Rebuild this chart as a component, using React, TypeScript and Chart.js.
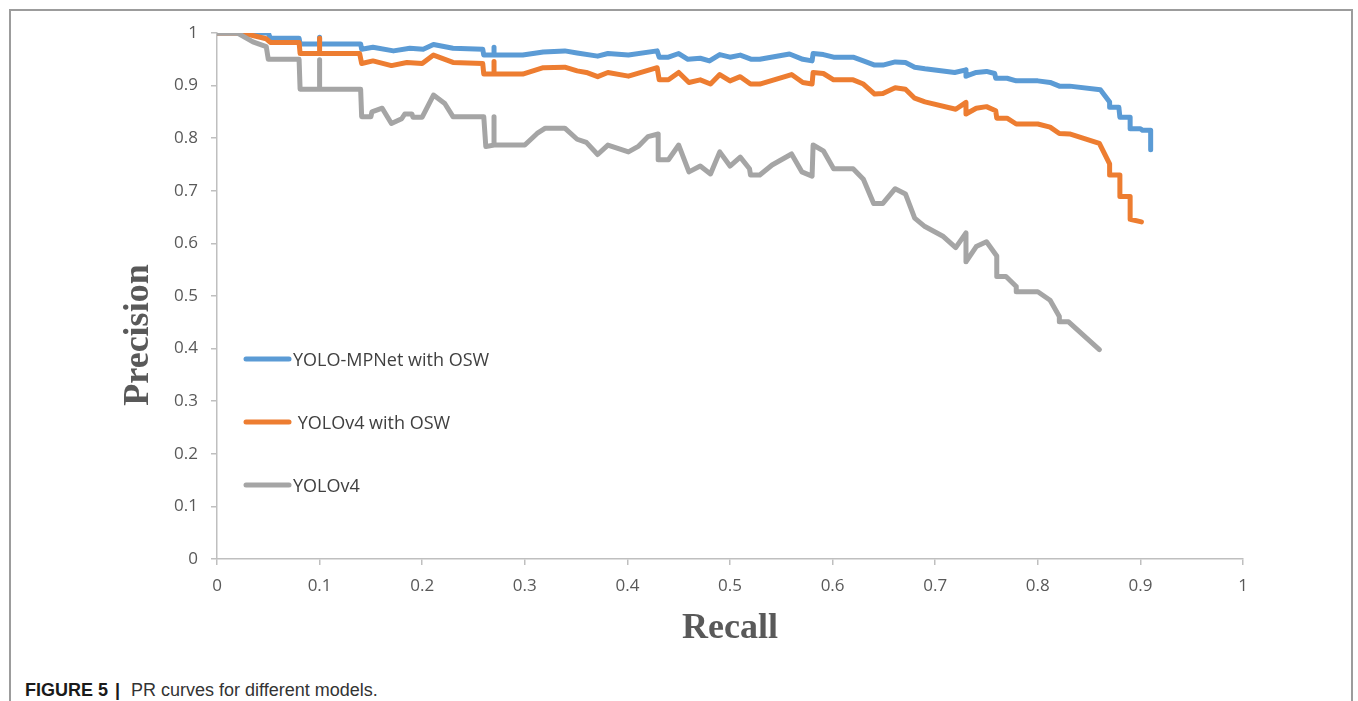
import React, { useEffect, useRef } from "react";
import { Chart, registerables } from "chart.js";

Chart.register(...registerables);

const SERIES_LABELS = ["YOLO-MPNet with OSW", " YOLOv4 with OSW", "YOLOv4"];
const SERIES_COLORS = ["#5b9bd5", "#ed7d31", "#a5a5a5"];

const X_TICKS = [0, 0.1, 0.2, 0.3, 0.4, 0.5, 0.6, 0.7, 0.8, 0.9, 1];
const X_TICK_LABELS = ["0", "0.1", "0.2", "0.3", "0.4", "0.5", "0.6", "0.7", "0.8", "0.9", "1"];
const Y_TICKS = [0, 0.1, 0.2, 0.3, 0.4, 0.5, 0.6, 0.7, 0.8, 0.9, 1];
const Y_TICK_LABELS = ["0", "0.1", "0.2", "0.3", "0.4", "0.5", "0.6", "0.7", "0.8", "0.9", "1"];

const X_TITLE = "Recall";
const Y_TITLE = "Precision";
const CAPTION_BOLD = "FIGURE 5";
const CAPTION_BAR = "|";
const CAPTION_TEXT = "PR curves for different models.";

// YOLO-MPNet with OSW
const MPNET_RECALL = [
  0, 0.05, 0.052, 0.08, 0.081, 0.1, 0.1, 0.1, 0.14, 0.141, 0.152, 0.172, 0.188, 0.201, 0.211, 0.23, 0.259, 0.26,
  0.27, 0.27, 0.27, 0.298, 0.318, 0.339, 0.351, 0.371, 0.381, 0.401, 0.429, 0.431, 0.44, 0.45, 0.459, 0.471, 0.48,
  0.49, 0.5, 0.51, 0.521, 0.529, 0.558, 0.571, 0.58, 0.581, 0.591, 0.601, 0.62, 0.63, 0.641, 0.649, 0.661, 0.671,
  0.68, 0.69, 0.719, 0.73, 0.73, 0.74, 0.75, 0.758, 0.759, 0.77, 0.779, 0.8, 0.812, 0.821, 0.831, 0.861, 0.87,
  0.87, 0.879, 0.88, 0.89, 0.89, 0.9, 0.902, 0.91, 0.91,
];
const MPNET_PRECISION = [
  1, 1, 0.99, 0.99, 0.979, 0.979, 0.992, 0.979, 0.979, 0.969, 0.973, 0.966, 0.971, 0.969, 0.978, 0.971, 0.969, 0.958,
  0.958, 0.973, 0.958, 0.958, 0.964, 0.966, 0.962, 0.956, 0.961, 0.958, 0.966, 0.954, 0.954, 0.961, 0.95, 0.952, 0.947,
  0.959, 0.954, 0.958, 0.95, 0.95, 0.96, 0.95, 0.947, 0.961, 0.959, 0.954, 0.954, 0.947, 0.939, 0.939, 0.945, 0.944,
  0.935, 0.932, 0.925, 0.93, 0.918, 0.925, 0.927, 0.923, 0.914, 0.914, 0.909, 0.909, 0.906, 0.899, 0.899, 0.892, 0.869,
  0.859, 0.859, 0.84, 0.84, 0.818, 0.818, 0.815, 0.815, 0.778,
];

// YOLOv4 with OSW
const V4OSW_RECALL = [
  0, 0.025, 0.048, 0.052, 0.08, 0.081, 0.1, 0.1, 0.1, 0.139, 0.141, 0.152, 0.17, 0.185, 0.2, 0.211, 0.23, 0.259, 0.26,
  0.27, 0.27, 0.27, 0.298, 0.318, 0.339, 0.351, 0.36, 0.371, 0.381, 0.401, 0.429, 0.431, 0.44, 0.45, 0.46, 0.471,
  0.481, 0.49, 0.5, 0.51, 0.52, 0.529, 0.56, 0.571, 0.58, 0.581, 0.591, 0.601, 0.62, 0.63, 0.641, 0.649, 0.661, 0.671,
  0.68, 0.69, 0.72, 0.73, 0.73, 0.74, 0.75, 0.759, 0.76, 0.77, 0.779, 0.8, 0.812, 0.821, 0.831, 0.86, 0.87, 0.87,
  0.88, 0.88, 0.89, 0.89, 0.901,
];
const V4OSW_PRECISION = [
  1, 1, 0.989, 0.982, 0.982, 0.961, 0.961, 0.99, 0.961, 0.961, 0.942, 0.947, 0.938, 0.944, 0.942, 0.958, 0.944, 0.942,
  0.922, 0.922, 0.946, 0.922, 0.922, 0.934, 0.935, 0.928, 0.925, 0.917, 0.925, 0.918, 0.934, 0.911, 0.911, 0.925, 0.906,
  0.911, 0.903, 0.921, 0.909, 0.917, 0.903, 0.903, 0.921, 0.906, 0.903, 0.925, 0.923, 0.911, 0.911, 0.903, 0.884, 0.885,
  0.896, 0.893, 0.876, 0.869, 0.855, 0.868, 0.846, 0.857, 0.86, 0.852, 0.838, 0.838, 0.827, 0.827, 0.821, 0.809, 0.808,
  0.79, 0.751, 0.73, 0.73, 0.689, 0.689, 0.646, 0.641,
];

// YOLOv4
const V4_RECALL = [
  0, 0.02, 0.035, 0.048, 0.05, 0.08, 0.081, 0.1, 0.1, 0.1, 0.14, 0.141, 0.15, 0.151, 0.161, 0.17, 0.18, 0.183, 0.19,
  0.191, 0.2, 0.211, 0.222, 0.23, 0.26, 0.262, 0.27, 0.27, 0.27, 0.3, 0.312, 0.32, 0.339, 0.351, 0.36, 0.371, 0.381,
  0.401, 0.411, 0.42, 0.43, 0.43, 0.44, 0.45, 0.46, 0.471, 0.481, 0.49, 0.5, 0.51, 0.519, 0.52, 0.529, 0.541, 0.56,
  0.57, 0.58, 0.581, 0.591, 0.601, 0.62, 0.63, 0.64, 0.649, 0.661, 0.671, 0.68, 0.69, 0.708, 0.72, 0.73, 0.73, 0.74,
  0.75, 0.76, 0.76, 0.769, 0.779, 0.779, 0.8, 0.812, 0.821, 0.821, 0.83, 0.86,
];
const V4_PRECISION = [
  1, 1, 0.983, 0.974, 0.95, 0.95, 0.893, 0.893, 0.949, 0.893, 0.893, 0.841, 0.841, 0.85, 0.857, 0.828, 0.837, 0.846,
  0.846, 0.84, 0.84, 0.882, 0.866, 0.841, 0.841, 0.784, 0.787, 0.841, 0.787, 0.787, 0.809, 0.819, 0.819, 0.798, 0.792,
  0.769, 0.787, 0.774, 0.785, 0.803, 0.808, 0.759, 0.759, 0.787, 0.736, 0.747, 0.732, 0.774, 0.747, 0.764, 0.742, 0.73,
  0.73, 0.749, 0.77, 0.736, 0.728, 0.787, 0.776, 0.742, 0.742, 0.722, 0.676, 0.676, 0.704, 0.694, 0.648, 0.632, 0.613,
  0.592, 0.62, 0.565, 0.594, 0.603, 0.576, 0.537, 0.537, 0.518, 0.508, 0.508, 0.492, 0.461, 0.451, 0.451, 0.398,
];

const SERIES_RECALL = [MPNET_RECALL, V4OSW_RECALL, V4_RECALL];
const SERIES_PRECISION = [MPNET_PRECISION, V4OSW_PRECISION, V4_PRECISION];

const CANVAS_W = 1358;
const CANVAS_H = 660;
const PLOT_LEFT = 217;
const PLOT_RIGHT = 1243;
const PLOT_TOP = 33;
const PLOT_BOTTOM = 559;

const AXIS_COLOR = "#bfbfbf";
const LABEL_COLOR = "#595959";

const overlayPlugin = {
  id: "overlay",
  afterDatasetsDraw(chart: any) {
    const ctx = chart.ctx as CanvasRenderingContext2D;
    ctx.save();
    // legend inside plot
    const rows = [359, 422, 485];
    ctx.font = "18px 'Open Sans'";
    ctx.textAlign = "left";
    ctx.textBaseline = "alphabetic";
    SERIES_LABELS.forEach((label, i) => {
      ctx.strokeStyle = SERIES_COLORS[i];
      ctx.lineWidth = 5;
      ctx.lineCap = "round";
      ctx.beginPath();
      ctx.moveTo(246, rows[i]);
      ctx.lineTo(289, rows[i]);
      ctx.stroke();
      ctx.fillStyle = "#404040";
      ctx.fillText(label, 293, rows[i] + 6.5);
    });
    // axis titles
    ctx.fillStyle = LABEL_COLOR;
    ctx.font = "bold 36px 'Liberation Serif'";
    ctx.textAlign = "center";
    ctx.textBaseline = "alphabetic";
    ctx.fillText(X_TITLE, (PLOT_LEFT + PLOT_RIGHT) / 2, 638);
    ctx.translate(148, 335);
    ctx.rotate(-Math.PI / 2);
    ctx.fillText(Y_TITLE, 0, 0);
    ctx.restore();
  },
};

export default function App() {
  const ref = useRef<HTMLCanvasElement | null>(null);

  useEffect(() => {
    if (!ref.current) return;
    const order = [2, 1, 0];
    const datasets = SERIES_LABELS.map((label, i) => ({
      label,
      data: SERIES_RECALL[i].map((r, j) => ({ x: r, y: SERIES_PRECISION[i][j] })),
      borderColor: SERIES_COLORS[i],
      backgroundColor: SERIES_COLORS[i],
      borderWidth: 5,
      borderCapStyle: "round" as const,
      borderJoinStyle: "round" as const,
      showLine: true,
      pointRadius: 0,
      tension: 0,
      order: order[i],
    }));
    const chart = new Chart(ref.current, {
      type: "scatter",
      data: { datasets },
      options: {
        animation: false,
        responsive: false,
        devicePixelRatio: 1,
        layout: {
          padding: { left: 0, right: CANVAS_W - PLOT_RIGHT, top: PLOT_TOP, bottom: 0 },
        },
        plugins: {
          legend: { display: false },
          tooltip: { enabled: false },
        },
        scales: {
          x: {
            type: "linear",
            min: 0,
            max: 1,
            afterBuildTicks: (scale: any) => {
              scale.ticks = X_TICKS.map((v) => ({ value: v }));
            },
            afterFit: (scale: any) => {
              scale.height = CANVAS_H - PLOT_BOTTOM;
            },
            ticks: {
              callback: (_v: any, i: number) => X_TICK_LABELS[i],
              color: LABEL_COLOR,
              font: { family: "'Open Sans'", size: 17 },
              padding: 11,
              maxRotation: 0,
              autoSkip: false,
            },
            grid: {
              display: true,
              drawOnChartArea: false,
              drawTicks: true,
              tickLength: 6,
              color: AXIS_COLOR,
              lineWidth: 1.5,
            },
            border: { display: true, color: AXIS_COLOR, width: 1.5 },
          },
          y: {
            type: "linear",
            min: 0,
            max: 1,
            afterBuildTicks: (scale: any) => {
              scale.ticks = Y_TICKS.map((v) => ({ value: v }));
            },
            afterFit: (scale: any) => {
              scale.width = PLOT_LEFT;
            },
            ticks: {
              callback: (_v: any, i: number) => Y_TICK_LABELS[i],
              color: LABEL_COLOR,
              font: { family: "'Open Sans'", size: 17 },
              padding: 13,
              autoSkip: false,
            },
            grid: {
              display: true,
              drawOnChartArea: false,
              drawTicks: true,
              tickLength: 6,
              color: AXIS_COLOR,
              lineWidth: 1.5,
            },
            border: { display: true, color: AXIS_COLOR, width: 1.5 },
          },
        },
      },
      plugins: [overlayPlugin],
    });
    return () => chart.destroy();
  }, []);

  return (
    <div>
      <div
        style={{
          position: "absolute",
          left: 9,
          top: 9,
          width: 1344,
          height: 692,
          borderTop: "2px solid #9c9c9c",
          borderLeft: "2px solid #9c9c9c",
          borderRight: "2px solid #9c9c9c",
          boxSizing: "border-box",
        }}
      />
      <canvas
        ref={ref}
        width={CANVAS_W}
        height={CANVAS_H}
        style={{ position: "absolute", left: 0, top: 0, width: CANVAS_W, height: CANVAS_H }}
      />
      <div
        style={{
          position: "absolute",
          left: 25,
          top: 680,
          fontFamily: "'Liberation Sans', Arial, sans-serif",
          fontSize: 18,
          lineHeight: "20px",
          color: "#333333",
          whiteSpace: "nowrap",
        }}
      >
        <span style={{ fontWeight: "bold", color: "#1a1a1a" }}>{CAPTION_BOLD}</span>
        <span style={{ fontWeight: "bold", color: "#1a1a1a", marginLeft: 7 }}>{CAPTION_BAR}</span>
        <span style={{ marginLeft: 11 }}>{CAPTION_TEXT}</span>
      </div>
    </div>
  );
}
